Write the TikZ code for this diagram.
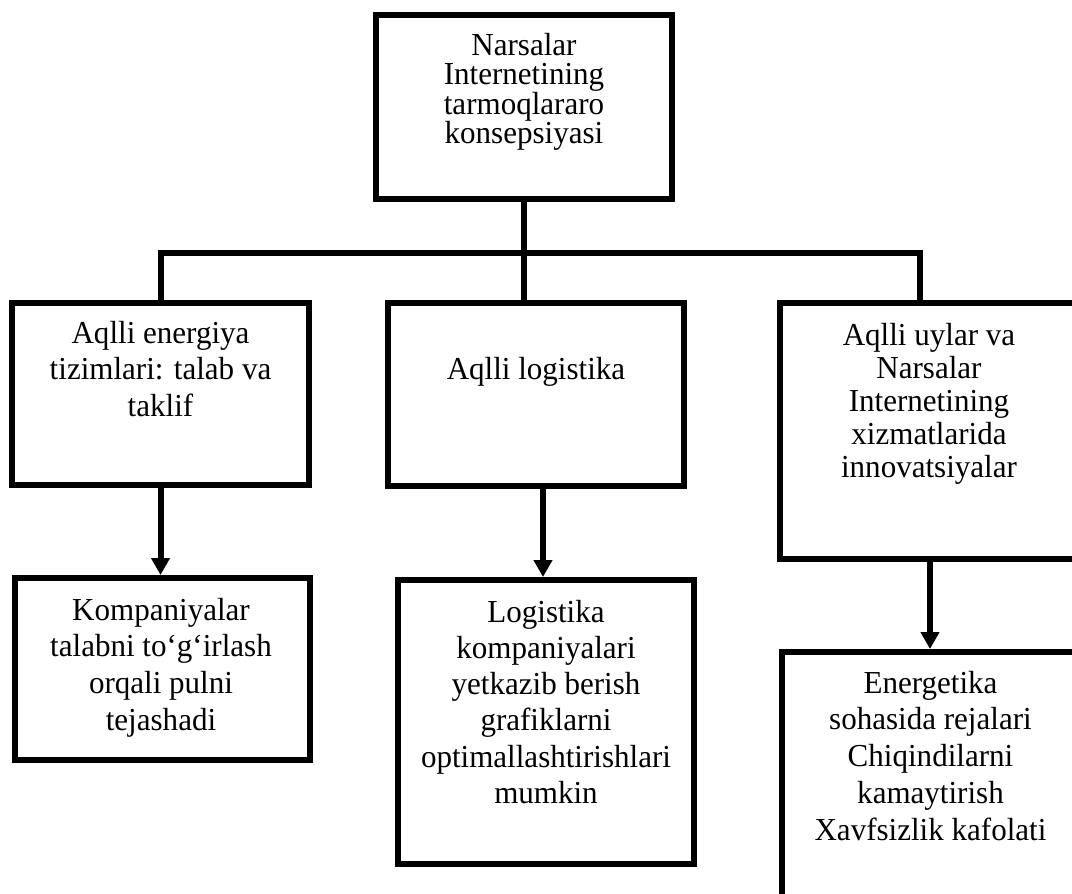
\documentclass[tikz,border=0pt]{standalone}
\usepackage{fontspec}
\setmainfont{Liberation Serif}[FakeStretch=0.97]
\usetikzlibrary{arrows.meta}

\newcommand{\firstline}{\rule{0pt}{24pt}}
\newcommand{\labelfont}[1]{\fontsize{32}{#1}\selectfont\lineskiplimit=-100pt\relax}

\tikzset{
  box/.style={draw=black, line width=6pt, rectangle, inner sep=0pt},
  label/.style={inner sep=0pt, anchor=north, align=center, font=\labelfont{36.5}},
  conn/.style={draw=black, line width=6pt, miter limit=10},
  arr/.style={conn, -{Triangle[width=18pt,length=17pt]}}
}

\begin{document}
\begin{tikzpicture}[x=1pt,y=-1pt]
  \fill[white] (0,0) rectangle (1072,894);
  \useasboundingbox (0,0) rectangle (1072,894);
  \clip (0,0) rectangle (1072,894);

  % boxes
  \node[box, minimum width=296pt, minimum height=184pt] (top) at (524,107) {};
  \node[box, minimum width=297pt, minimum height=182pt] (b1) at (160.5,394) {};
  \node[box, minimum width=296pt, minimum height=183pt] (b2) at (536,394.5) {};
  \node[box, minimum width=300pt, minimum height=256pt] (b3) at (930,431) {};
  \node[box, minimum width=295pt, minimum height=182pt] (c1) at (162.5,669) {};
  \node[box, minimum width=296pt, minimum height=284pt] (c2) at (546,722) {};
  \node[box, minimum width=298pt, minimum height=298pt] (c3) at (931,801) {};

  % texts (the strut in the first line fixes where the first baseline falls)
  \node[label, font=\labelfont{29.5}] (ttop) at (524,31)
    {\firstline Narsalar\\Internetining\\tarmoqlararo\\konsepsiyasi};
  \node[label] (tb1) at (160.5,319)
    {\firstline Aqlli energiya\\tizimlari: talab va\\taklif};
  \node[label] (tb2) at (536,319)
    {\firstline\\Aqlli logistika};
  \node[label, font=\labelfont{33}] (tb3) at (929,321)
    {\firstline Aqlli uylar va\\Narsalar\\Internetining\\xizmatlarida\\innovatsiyalar};
  \node[label, font=\labelfont{36.7}] (tc1) at (161,596)
    {\firstline Kompaniyalar\\talabni to‘g‘irlash\\orqali pulni\\tejashadi};
  \node[label, font=\labelfont{36.2}] (tc2) at (546,598)
    {\firstline Logistika\\kompaniyalari\\yetkazib berish\\grafiklarni\\optimallashtirishlari\\mumkin};
  \node[label, font=\labelfont{36.7}] (tc3) at (930.5,669)
    {\firstline Energetika\\sohasida rejalari\\Chiqindilarni\\kamaytirish\\Xavfsizlik kafolati};

  % tree connectors
  \coordinate (bus) at (524,253);
  \coordinate (b3in) at ([xshift=-10pt]b3.north);
  \draw[conn] (top.south) -- (b2.north -| bus);
  \draw[conn] (b1.north) |- (bus) -| (b3in);

  % arrows to the lower boxes
  \draw[arr] (b1.south) -- (b1.south |- c1.north);
  \draw[arr] ([xshift=-3pt]b2.south -| c2.north) -- ([xshift=-3pt]c2.north);
  \draw[arr] (b3.south) -- (b3.south |- c3.north);
\end{tikzpicture}
\end{document}
